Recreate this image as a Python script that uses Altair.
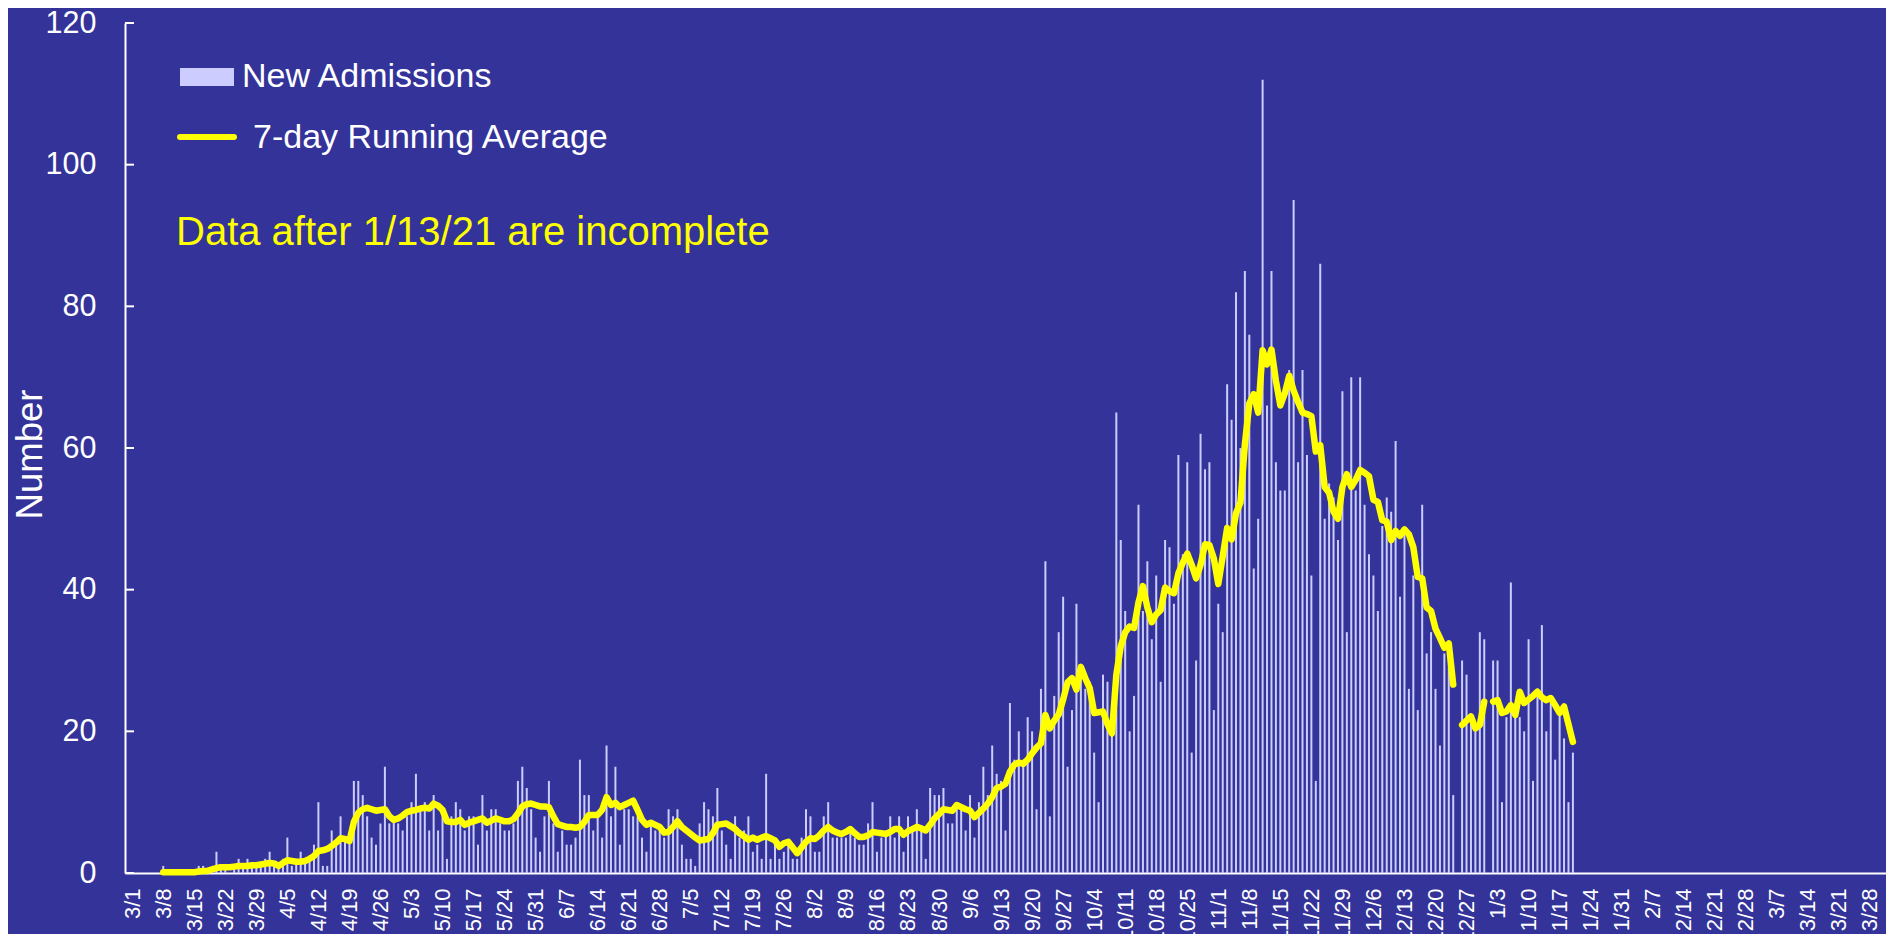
import json
import altair as alt
import pandas as pd

# ---------------- data ----------------
# day 0 = 3/1/2020; one value per day; None = no report (12/25, 1/1)
admissions = [
    0, 0, 0, 0, 0, 0, 0, 1, 0, 0,
    0, 0, 0, 0, 0, 1, 1, 0, 0, 3,
    1, 1, 0, 1, 2, 1, 2, 1, 1, 1,
    2, 3, 1, 1, 2, 5, 1, 2, 3, 2,
    2, 4, 10, 1, 1, 6, 4, 8, 5, 5,
    13, 13, 11, 8, 5, 4, 7, 15, 7, 8,
    7, 6, 8, 10, 14, 9, 10, 6, 11, 6,
    8, 2, 8, 10, 9, 6, 8, 8, 4, 11,
    6, 9, 9, 7, 6, 6, 7, 13, 15, 12,
    9, 5, 3, 8, 13, 7, 3, 6, 4, 4,
    5, 16, 11, 11, 6, 8, 5, 18, 8, 15,
    4, 9, 9, 8, 8, 5, 3, 7, 6, 6,
    5, 9, 8, 9, 4, 2, 2, 1, 7, 10,
    9, 8, 12, 6, 4, 2, 8, 5, 6, 8,
    3, 4, 2, 14, 2, 4, 2, 3, 4, 2,
    2, 5, 9, 8, 3, 3, 8, 10, 5, 5,
    5, 5, 6, 5, 4, 4, 7, 10, 3, 5,
    6, 8, 5, 8, 3, 8, 6, 9, 6, 2,
    12, 11, 11, 12, 7, 7, 10, 9, 6, 11,
    5, 10, 15, 11, 18, 14, 13, 6, 24, 16,
    20, 16, 22, 20, 9, 26, 44, 8, 25, 34,
    39, 15, 23, 38, 28, 26, 27, 17, 10, 28,
    27, 21, 65, 47, 37, 20, 25, 52, 37, 44,
    33, 42, 27, 47, 46, 38, 59, 45, 58, 17,
    30, 62, 57, 58, 23, 38, 34, 69, 64, 82,
    60, 85, 76, 43, 50, 112, 66, 85, 58, 54,
    54, 71, 95, 58, 71, 59, 42, 13, 86, 50,
    55, 53, 47, 68, 34, 70, 54, 70, 52, 45,
    42, 37, 49, 53, 51, 61, 39, 48, 26, 42,
    23, 52, 31, 34, 26, 18, 31, 32, 11, None,
    30, 28, 22, 20, 34, 33, None, 30, 30, 10,
    22, 41, 22, 22, 20, 33, 13, 26, 35, 20,
    24, 16, 23, 19, 10, 17,
]

running_avg = [
    None, None, None, None, None, None, None, 0.1, 0.1, 0.1,
    0.1, 0.1, 0.1, 0.1, 0.1, 0.2, 0.3, 0.3, 0.5, 0.7,
    0.8, 0.8, 0.8, 0.9, 1.0, 1.0, 1.0, 1.1, 1.1, 1.2,
    1.3, 1.4, 1.35, 1.0, 1.4, 1.8, 1.7, 1.6, 1.6, 1.7,
    2.0, 2.4, 3.1, 3.2, 3.4, 3.8, 4.3, 4.9, 4.8, 4.5,
    7.2, 8.5, 9.0, 9.2, 9.0, 8.8, 8.9, 9.0, 8.0, 7.5,
    7.7, 8.1, 8.6, 8.8, 8.9, 9.1, 9.2, 9.1, 9.8, 9.5,
    8.9, 7.3, 7.2, 7.2, 7.5, 6.8, 7.1, 7.3, 7.5, 7.7,
    7.1, 7.4, 7.7, 7.5, 7.3, 7.3, 7.6, 8.4, 9.4, 9.7,
    9.8, 9.6, 9.4, 9.4, 9.3, 8.0, 6.9, 6.7, 6.5, 6.5,
    6.4, 6.5, 7.2, 8.2, 8.2, 8.2, 8.9, 10.7, 9.6, 9.9,
    9.3, 9.6, 9.9, 10.2, 8.9, 7.5, 6.8, 7.1, 6.8, 6.5,
    5.7, 5.8, 6.5, 7.3, 6.5, 6.0, 5.5, 5.0, 4.6, 4.7,
    4.8, 5.6, 6.8, 6.9, 7.0, 6.6, 6.2, 5.6, 5.2, 4.7,
    5.0, 4.7, 5.0, 5.2, 4.9, 4.6, 3.7, 4.2, 4.4, 3.6,
    2.8, 3.6, 4.4, 4.9, 4.8, 5.3, 6.0, 6.5, 6.0, 5.7,
    5.5, 5.8, 6.2, 5.6, 5.1, 5.1, 5.3, 5.8, 5.7, 5.6,
    5.5, 5.8, 6.2, 6.2, 5.4, 5.9, 6.2, 6.5, 6.3, 6.0,
    6.8, 7.7, 8.3, 9.0, 8.9, 8.8, 9.6, 9.3, 9.0, 8.8,
    7.9, 8.5, 9.1, 9.8, 10.7, 12.0, 12.2, 12.6, 14.3, 15.3,
    15.6, 15.4, 16.0, 16.9, 17.7, 18.3, 22.3, 20.4, 21.5, 22.4,
    24.5, 26.9, 27.5, 25.9, 29.1, 27.5, 26.1, 22.6, 22.7, 22.8,
    21.0, 19.7, 28.0, 32.0, 34.0, 34.8, 34.6, 38.2, 40.5, 37.5,
    35.4, 36.5, 37.1, 40.3, 39.8, 39.5, 42.3, 43.8, 45.1, 43.5,
    41.6, 43.5, 46.4, 46.3, 44.4, 40.8, 44.7, 48.7, 47.1, 50.8,
    52.3, 60.5, 66.3, 67.6, 65.0, 73.8, 71.8, 73.9, 69.5, 66.0,
    67.7, 70.2, 68.1, 66.5, 65.0, 64.8, 64.5, 59.5, 60.4, 54.5,
    53.7, 51.0, 50.0, 54.5, 56.3, 54.5, 55.5, 56.9, 56.5, 56.0,
    52.7, 52.4, 49.8, 49.6, 47.0, 48.3, 47.6, 48.5, 47.8, 46.0,
    41.8, 41.6, 37.5, 37.0, 34.5, 33.2, 31.8, 32.4, 26.6, None,
    20.9, 21.5, 22.1, 20.4, 20.9, 24.2, None, 24.2, 24.4, 22.6,
    22.8, 23.7, 22.3, 25.6, 24.0, 24.5, 25.0, 25.6, 24.8, 24.4,
    24.7, 23.7, 22.6, 23.5, 21.0, 18.5,
]

tick_labels = [
    "3/1", "3/8", "3/15", "3/22", "3/29", "4/5", "4/12", "4/19", "4/26",
    "5/3", "5/10", "5/17", "5/24", "5/31", "6/7", "6/14", "6/21", "6/28",
    "7/5", "7/12", "7/19", "7/26", "8/2", "8/9", "8/16", "8/23", "8/30",
    "9/6", "9/13", "9/20", "9/27", "10/4", "10/11", "10/18", "10/25",
    "11/1", "11/8", "11/15", "11/22", "11/29", "12/6", "12/13", "12/20",
    "12/27", "1/3", "1/10", "1/17", "1/24", "1/31", "2/7", "2/14", "2/21",
    "2/28", "3/7", "3/14", "3/21", "3/28",
]
y_ticks = [0, 20, 40, 60, 80, 100, 120]
legend_labels = ["New Admissions", "7-day Running Average"]
note_text = "Data after 1/13/21 are incomplete"

# ---------------- tables ----------------
bar_df = pd.DataFrame({"day": range(len(admissions)), "admissions": admissions}).dropna()

seg, cur, rows = 0, None, []
for d, v in enumerate(running_avg):
    if v is None:
        if cur is not None:
            seg += 1
        cur = None
        continue
    cur = seg
    rows.append({"day": d, "avg": v, "segment": seg})
line_df = pd.DataFrame(rows)

FONT = "Liberation Sans, Arial, sans-serif"
W, H = 1761, 850
x_scale = alt.Scale(domain=[-0.5, 394.5], nice=False, zero=False)
y_scale = alt.Scale(domain=[0, 120], nice=False)

x_axis = alt.Axis(
    values=[i * 7 for i in range(len(tick_labels))],
    labelExpr=f"{json.dumps(tick_labels)}[round(datum.value / 7)]",
    labelAngle=270, labelFontSize=22, labelColor="white", labelFont=FONT,
    labelPadding=15, labelOverlap=False, labelFlush=False, labelSeparation=0,
    ticks=False, grid=False, domainColor="white", domainWidth=2, title=None,
)
y_axis = alt.Axis(
    values=y_ticks, ticks=False, grid=False, domainColor="white", domainWidth=2,
    labelColor="white", labelFontSize=30.5, labelFont=FONT, labelPadding=29,
    title="Number", titleColor="white", titleFontSize=36.5, titleFont=FONT,
    titleFontWeight="normal", titleAngle=270, titleX=-95, titleY=H / 2 + 6,
    titleAlign="center", titleBaseline="middle",
)

bars = alt.Chart(bar_df).mark_bar(color="#CCCCFF", size=2).encode(
    x=alt.X("day:Q", scale=x_scale, axis=x_axis),
    y=alt.Y("admissions:Q", scale=y_scale, axis=y_axis),
)

line = alt.Chart(line_df).mark_line(
    color="#FFFF00", strokeWidth=6.5, strokeCap="round", strokeJoin="round"
).encode(
    x=alt.X("day:Q", scale=x_scale, axis=x_axis),
    y=alt.Y("avg:Q", scale=y_scale, axis=y_axis),
    detail="segment:N",
)

inner_ticks = alt.Chart(pd.DataFrame({"v": y_ticks})).mark_rule(
    color="white", strokeWidth=2
).encode(y=alt.Y("v:Q", scale=y_scale, axis=y_axis), x=alt.value(0), x2=alt.value(9))

one = pd.DataFrame({"k": [0]})
leg_rect = alt.Chart(one).mark_rect(color="#CCCCFF").encode(
    x=alt.value(55), x2=alt.value(109), y=alt.value(45), y2=alt.value(63)
)
leg_line = alt.Chart(one).mark_rule(
    color="#FFFF00", strokeWidth=6, strokeCap="round"
).encode(x=alt.value(55), x2=alt.value(109), y=alt.value(114))
leg_text1 = alt.Chart(one).mark_text(
    align="left", baseline="alphabetic", fontSize=34, font=FONT, color="white"
).encode(x=alt.value(117), y=alt.value(64), text=alt.value(legend_labels[0]))
leg_text2 = alt.Chart(one).mark_text(
    align="left", baseline="alphabetic", fontSize=34, font=FONT, color="white"
).encode(x=alt.value(128), y=alt.value(125), text=alt.value(legend_labels[1]))
note = alt.Chart(one).mark_text(
    align="left", baseline="alphabetic", fontSize=40, font=FONT, color="#FFFF00"
).encode(x=alt.value(51), y=alt.value(222), text=alt.value(note_text))

chart = alt.layer(
    bars, line, inner_ticks, leg_rect, leg_line, leg_text1, leg_text2, note
).properties(
    width=W, height=H,
    autosize=alt.AutoSizeParams(type="none"),
    padding={"left": 117, "top": 15, "right": 0, "bottom": 61},
    background="#333399",
    usermeta={"embedOptions": {
        "defaultStyle": "html,body{background:#333399;overflow:hidden;} svg{display:block;}"
    }},
).configure_view(
    stroke=None
).configure_axisX(
    labelOverlap=False, labelFlush=False, labelSeparation=0
)

chart.save("out.html", embed_options={"renderer": "svg", "actions": False})
